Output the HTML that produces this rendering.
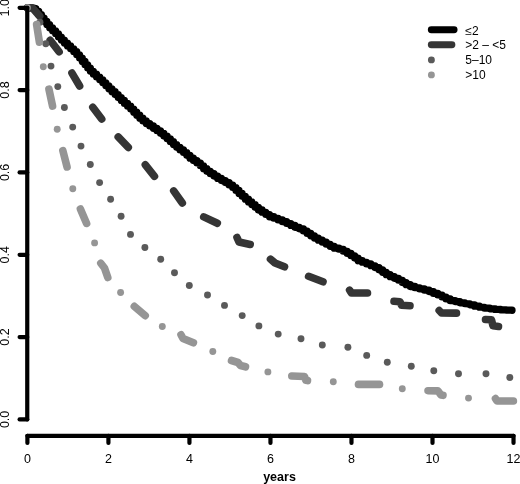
<!DOCTYPE html><html><head><meta charset="utf-8"><style>html,body{margin:0;padding:0;background:#fff;width:520px;height:484px;overflow:hidden}svg{display:block;will-change:transform}text{font-family:"Liberation Sans",sans-serif}</style></head><body>
<svg width="520" height="484" viewBox="0 0 520 484">
<rect width="520" height="484" fill="#fff"/>
<g font-size="12.5" fill="#000" text-anchor="middle">
<text x="27.40" y="462.5">0</text>
<text x="108.42" y="462.5">2</text>
<text x="189.44" y="462.5">4</text>
<text x="270.46" y="462.5">6</text>
<text x="351.48" y="462.5">8</text>
<text x="432.50" y="462.5">10</text>
<text x="513.52" y="462.5">12</text>
<text transform="translate(8.9 419.40) rotate(-90)">0.0</text>
<text transform="translate(8.9 337.10) rotate(-90)">0.2</text>
<text transform="translate(8.9 254.80) rotate(-90)">0.4</text>
<text transform="translate(8.9 172.40) rotate(-90)">0.6</text>
<text transform="translate(8.9 90.10) rotate(-90)">0.8</text>
<text transform="translate(8.9 7.80) rotate(-90)">1.0</text>
</g>
<text x="279.5" y="481" font-size="12.5" font-weight="bold" text-anchor="middle">years</text>
<g fill="none" stroke-linecap="round" stroke-linejoin="round" stroke-width="6.90">
<polyline stroke="#000" stroke-width="7.20" points="27.40,7.80 31.91,7.80 31.91,7.80 35.89,8.48 35.89,11.21 38.74,11.36 38.74,14.68 41.43,14.68 41.43,18.00 44.12,18.01 44.12,21.34 46.85,21.32 46.85,24.60 49.63,24.59 49.63,27.82 52.59,27.76 52.59,30.76 55.64,30.75 55.64,33.72 58.48,33.79 58.48,37.04 61.37,37.00 61.37,40.08 64.37,40.06 64.37,43.07 67.48,43.04 67.48,45.92 70.62,45.92 70.62,48.79 73.79,48.78 73.79,51.63 76.72,51.71 76.72,54.87 79.54,54.88 79.54,58.10 82.30,58.11 82.30,61.40 85.01,61.40 85.01,64.71 87.67,64.73 87.67,68.11 90.42,68.07 90.42,71.31 93.40,71.24 93.40,74.22 96.55,74.19 96.55,77.02 99.74,77.02 99.74,79.84 102.82,79.88 102.82,82.86 105.85,82.86 105.85,85.86 108.87,85.86 108.87,88.87 111.98,88.84 111.98,91.71 115.12,91.71 115.12,94.59 118.21,94.61 118.21,97.56 121.30,97.55 121.30,100.48 124.40,100.47 124.40,103.38 127.58,103.36 127.58,106.18 130.71,106.20 130.71,109.12 133.74,109.14 133.74,112.15 136.75,112.15 136.75,115.16 139.79,115.15 139.79,118.14 142.92,118.10 142.92,120.95 146.25,120.90 146.25,123.53 149.77,123.49 149.77,125.95 153.38,125.93 153.38,128.33 157.01,128.33 157.01,130.72 160.53,130.75 160.53,133.28 163.88,133.33 163.88,136.04 167.17,136.05 167.17,138.79 170.38,138.81 170.38,141.64 173.48,141.67 173.48,144.62 176.69,144.57 176.69,147.34 180.03,147.31 180.03,149.97 183.52,149.93 183.52,152.40 186.79,152.50 186.79,155.34 189.98,155.34 189.98,158.16 193.40,158.09 193.40,160.61 196.97,160.58 196.97,163.00 200.42,163.05 200.42,165.68 203.57,165.76 203.57,168.71 206.85,168.64 206.85,171.31 210.33,171.27 210.33,173.77 213.99,173.72 213.99,176.03 217.64,176.05 217.64,178.44 221.44,178.38 221.44,180.54 225.35,180.53 225.35,182.62 229.15,182.66 229.15,184.93 232.71,184.99 232.71,187.51 235.98,187.59 235.98,190.42 239.01,190.47 239.01,193.51 242.12,193.47 242.12,196.34 245.30,196.33 245.30,199.17 248.49,199.16 248.49,201.98 251.80,201.95 251.80,204.62 255.15,204.62 255.15,207.29 258.44,207.31 258.44,210.06 262.05,209.95 262.05,212.24 265.79,212.24 265.79,214.51 269.51,214.52 269.51,216.83 273.75,216.65 273.75,218.25 278.13,218.26 278.13,219.92 282.42,219.94 282.42,221.70 286.66,221.71 286.66,223.49 290.82,223.52 290.82,225.40 294.95,225.40 294.95,227.31 299.31,227.23 299.31,228.80 303.43,228.91 303.43,230.92 307.14,231.02 307.14,233.43 310.75,233.43 310.75,235.83 314.46,235.80 314.46,238.08 318.33,238.04 318.33,240.15 322.30,240.13 322.30,242.16 326.24,242.17 326.24,244.27 330.16,244.27 330.16,246.37 334.22,246.32 334.22,248.24 338.88,248.05 338.88,249.23 343.27,249.38 343.27,251.16 347.21,251.26 347.21,253.45 350.99,253.46 350.99,255.72 354.70,255.74 354.70,258.07 358.16,258.14 358.16,260.78 362.24,260.55 362.24,262.26 366.56,262.25 366.56,263.94 370.82,263.97 370.82,265.76 375.04,265.76 375.04,267.56 378.99,267.65 378.99,269.81 382.61,269.89 382.61,272.37 386.27,272.33 386.27,274.65 390.15,274.59 390.15,276.67 394.34,276.59 394.34,278.32 398.51,278.36 398.51,280.26 402.36,280.35 402.36,282.61 406.18,282.59 406.18,284.76 410.26,284.68 410.26,286.56 414.80,286.42 414.80,287.77 419.60,287.73 419.60,288.91 424.39,288.92 424.39,290.18 429.09,290.20 429.09,291.54 433.43,291.65 433.43,293.43 437.84,293.38 437.84,294.93 442.02,295.03 442.02,296.97 446.03,296.99 446.03,299.02 450.23,298.95 450.23,300.70 455.02,300.53 455.02,301.59 459.88,301.62 459.88,302.81 464.85,302.77 464.85,303.77 469.81,303.79 469.81,304.87 474.56,304.93 474.56,306.26 479.45,306.19 479.45,307.26 484.49,307.23 484.49,308.18 489.73,308.12 489.73,308.84 495.08,308.83 495.08,309.48 500.61,309.43 500.61,309.87 506.26,309.84 506.26,310.18 512.05,310.15 512.05,310.35"/>
<polyline stroke="#353535" stroke-width="7.60" points="27.40,7.80 32.50,8.00 39.68,16.13"/>
<polyline stroke="#353535" stroke-width="7.60" points="50.20,40.20 59.10,51.80"/>
<polyline stroke="#353535" stroke-width="7.60" points="71.98,73.07 79.62,86.03"/>
<polyline stroke="#353535" stroke-width="7.60" points="92.80,107.20 101.70,119.00"/>
<polyline stroke="#353535" stroke-width="7.60" points="118.23,136.92 128.27,147.48"/>
<polyline stroke="#353535" stroke-width="7.60" points="145.35,164.85 154.45,176.35"/>
<polyline stroke="#353535" stroke-width="7.60" points="173.70,190.90 182.30,203.00"/>
<polyline stroke="#353535" stroke-width="7.60" points="203.75,216.90 217.30,223.20"/>
<polyline stroke="#353535" stroke-width="7.60" points="237.00,237.50 239.00,242.00 250.20,244.50"/>
<polyline stroke="#353535" stroke-width="7.60" points="270.50,259.20 275.00,263.00 284.50,266.80"/>
<polyline stroke="#353535" stroke-width="7.60" points="308.60,276.30 323.00,281.80"/>
<polyline stroke="#353535" stroke-width="7.60" points="349.60,290.20 351.50,293.00 367.50,293.00"/>
<polyline stroke="#353535" stroke-width="7.60" points="394.00,301.30 400.00,301.80 401.50,305.20 410.00,305.70"/>
<polyline stroke="#353535" stroke-width="7.60" points="439.20,310.50 441.50,313.00 456.50,313.10"/>
<polyline stroke="#353535" stroke-width="7.60" points="485.50,319.50 491.50,319.80 493.00,325.80 498.50,326.50"/>
</g>
<g fill="#5a5a5a">
<circle cx="27.40" cy="7.80" r="3.45"/>
<circle cx="40.00" cy="22.20" r="3.45"/>
<circle cx="45.80" cy="43.80" r="3.45"/>
<circle cx="51.00" cy="66.10" r="3.45"/>
<circle cx="57.80" cy="86.60" r="3.45"/>
<circle cx="64.40" cy="107.50" r="3.45"/>
<circle cx="72.70" cy="127.10" r="3.45"/>
<circle cx="81.00" cy="146.10" r="3.45"/>
<circle cx="90.30" cy="164.50" r="3.45"/>
<circle cx="99.60" cy="182.60" r="3.45"/>
<circle cx="110.60" cy="199.20" r="3.45"/>
<circle cx="121.10" cy="216.20" r="3.45"/>
<circle cx="130.50" cy="234.40" r="3.45"/>
<circle cx="144.90" cy="247.50" r="3.45"/>
<circle cx="160.70" cy="259.20" r="3.45"/>
<circle cx="174.50" cy="272.80" r="3.45"/>
<circle cx="189.30" cy="285.50" r="3.45"/>
<circle cx="207.50" cy="295.00" r="3.45"/>
<circle cx="224.50" cy="305.40" r="3.45"/>
<circle cx="242.20" cy="315.60" r="3.45"/>
<circle cx="258.90" cy="325.90" r="3.45"/>
<circle cx="278.20" cy="334.10" r="3.45"/>
<circle cx="301.00" cy="338.80" r="3.45"/>
<circle cx="322.30" cy="345.00" r="3.45"/>
<circle cx="347.90" cy="347.30" r="3.45"/>
<circle cx="366.70" cy="355.40" r="3.45"/>
<circle cx="387.30" cy="362.30" r="3.45"/>
<circle cx="411.30" cy="366.20" r="3.45"/>
<circle cx="433.80" cy="370.80" r="3.45"/>
<circle cx="458.50" cy="373.70" r="3.45"/>
<circle cx="486.00" cy="373.70" r="3.45"/>
<circle cx="509.80" cy="377.50" r="3.45"/>
</g>
<g fill="#959595">
<circle cx="27.40" cy="7.80" r="3.45"/>
<circle cx="43.30" cy="66.70" r="3.45"/>
<circle cx="57.20" cy="129.20" r="3.45"/>
<circle cx="72.80" cy="188.80" r="3.45"/>
<circle cx="94.60" cy="242.90" r="3.45"/>
<circle cx="120.60" cy="292.50" r="3.45"/>
<circle cx="162.30" cy="326.50" r="3.45"/>
<circle cx="212.80" cy="351.50" r="3.45"/>
<circle cx="267.90" cy="371.90" r="3.45"/>
<circle cx="333.30" cy="381.70" r="3.45"/>
<circle cx="402.30" cy="388.70" r="3.45"/>
<circle cx="468.50" cy="398.10" r="3.45"/>
</g>
<g fill="none" stroke="#959595" stroke-linecap="round" stroke-linejoin="round" stroke-width="7.60">
<polyline points="36.60,24.40 39.40,42.20"/>
<polyline points="48.93,89.10 52.57,106.10"/>
<polyline points="62.84,150.61 67.06,166.99"/>
<polyline points="80.40,209.00 86.60,223.40"/>
<polyline points="100.80,263.20 104.50,268.00 107.80,277.50"/>
<polyline points="134.30,306.40 145.20,315.60"/>
<polyline points="181.00,334.80 183.00,338.50 193.40,342.80"/>
<polyline points="231.50,360.50 238.00,362.50 240.50,365.50 245.50,366.80"/>
<polyline points="291.80,376.00 304.50,376.50 305.80,380.30 307.50,380.60"/>
<polyline points="358.50,384.40 379.50,384.40"/>
<polyline points="428.00,390.70 438.00,390.90 441.00,395.00 443.00,395.30"/>
<polyline points="495.50,398.60 497.00,400.90 513.40,401.00"/>
</g>
<g stroke="#000" stroke-width="4.2" stroke-linecap="round" fill="none">
<path d="M27.25 419.40V7.80"/>
<path d="M27.25 419.40H19.6"/>
<path d="M27.25 337.10H19.6"/>
<path d="M27.25 254.80H19.6"/>
<path d="M27.25 172.40H19.6"/>
<path d="M27.25 90.10H19.6"/>
<path d="M27.25 7.80H19.6"/>
<path d="M27.40 435.80H513.52"/>
<path d="M27.40 435.80V443"/>
<path d="M108.42 435.80V443"/>
<path d="M189.44 435.80V443"/>
<path d="M270.46 435.80V443"/>
<path d="M351.48 435.80V443"/>
<path d="M432.50 435.80V443"/>
<path d="M513.52 435.80V443"/>
</g>
<g stroke-linecap="round" stroke-width="6.90">
<path d="M431.3 29.7H454.1" stroke="#000"/>
<path d="M431.3 44.8H451.9" stroke="#353535"/>
</g>
<circle cx="431.4" cy="59.9" r="3.45" fill="#5a5a5a"/>
<circle cx="431.4" cy="74.9" r="3.45" fill="#959595"/>
<g font-size="12" fill="#000">
<text x="465.3" y="34.6">≤2</text>
<text x="465.3" y="49.4">&gt;2 – &lt;5</text>
<text x="465.3" y="64.2">5–10</text>
<text x="465.3" y="78.8">&gt;10</text>
</g>
</svg></body></html>
